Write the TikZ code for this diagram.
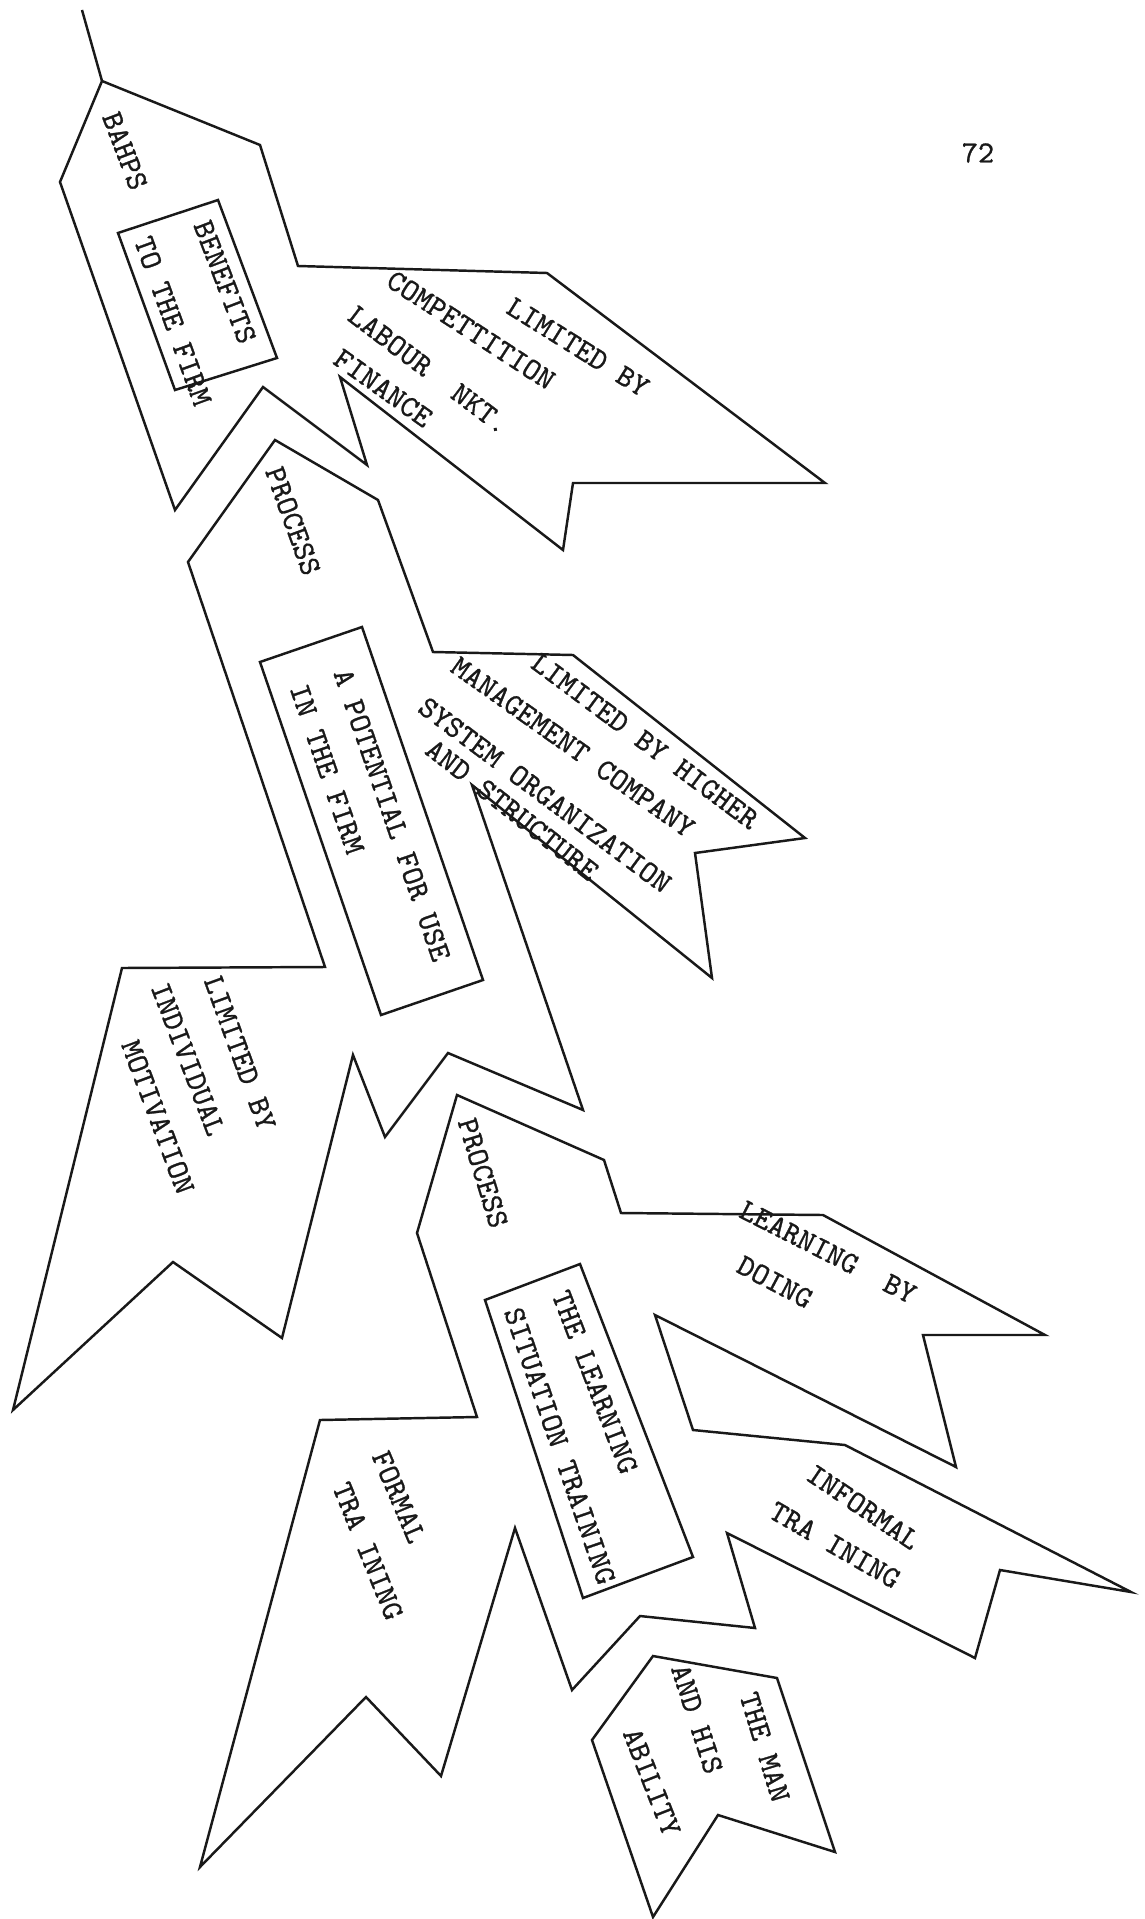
\documentclass[tikz,border=0pt]{standalone}
\usepackage{fontspec}
\newfontfamily\typefont{lmmono10-regular.otf}[FakeBold=0.9]
\definecolor{ink}{RGB}{25,25,25}

\tikzset{
  outline/.style={ink,line width=1.4pt},
  typed/.style={ink,inner sep=0pt,font=\typefont\fontsize{17.5}{21}\selectfont},
}

\begin{document}
\begin{tikzpicture}[x=0.02cm,y=-0.02cm]
 \useasboundingbox (0,0) rectangle (1145,1919);
  \draw[outline] (82,10) -- (102,81);
  \draw[outline] (102,81) -- (260,145) -- (298,266) -- (547,273) -- (825,483)
    -- (573,483) -- (563,550) -- (340,377) -- (367,465) -- (263,387)
    -- (175,510) -- (60,182) -- cycle;
  \draw[outline] (275,440) -- (378,500) -- (433,652) -- (573,655) -- (805,838)
    -- (695,853) -- (712,978) -- (472,785) -- (583,1110) -- (448,1053)
    -- (385,1137) -- (353,1055) -- (282,1338) -- (173,1262) -- (13,1410)
    -- (122,968) -- (325,967) -- (188,562) -- cycle;
  \draw[outline] (457,1095) -- (604,1160) -- (621,1213) -- (823,1215) -- (1045,1335)
    -- (923,1335) -- (956,1467) -- (655,1315) -- (693,1430) -- (845,1445)
    -- (1131,1592) -- (1000,1570) -- (975,1658) -- (727,1533) -- (755,1628)
    -- (640,1616) -- (572,1690) -- (515,1528) -- (441,1776) -- (366,1697)
    -- (200,1867) -- (320,1420) -- (477,1417) -- (417,1233) -- cycle;
  \draw[outline] (653,1656) -- (777,1678) -- (835,1852) -- (718,1815)
    -- (653,1917) -- (592,1740) -- cycle;
  \draw[outline] (118,233) -- (218,200) -- (277,358) -- (175,390) -- cycle;
  \draw[outline] (260,662) -- (362,627) -- (483,980) -- (381,1015) -- cycle;
  \draw[outline] (485,1300) -- (580,1264) -- (693,1557) -- (583,1598) -- cycle;

  \node[typed]              (page)      at (978,153)  {72};
  \node[typed,rotate=-69]   (bahps)     at (125,151)  {BAHPS};
  \node[typed,rotate=-69]   (benefits)  at (225,282)  {BENEFITS};
  \node[typed,rotate=-70]   (tofirm)    at (173,321)  {TO THE FIRM};
  \node[typed,rotate=-32]   (limfirm)   at (578,347)  {LIMITED BY};
  \node[typed,rotate=-33]   (compet)    at (471,330)  {COMPETTITION};
  \node[typed,rotate=-37]   (labour)    at (429,370)  {LABOUR\ \ NKT.};
  \node[typed,rotate=-35.5] (finance)   at (383,388)  {FINANCE};
  \node[typed,rotate=-70]   (procfirm)  at (293,521)  {PROCESS};
  \node[typed,rotate=-71]   (potential) at (392,815)  {A POTENTIAL FOR USE};
  \node[typed,rotate=-71]   (infirm)    at (327,769)  {IN THE FIRM};
  \node[typed,rotate=-36.6] (limhigh)   at (645,741)  {LIMITED BY HIGHER};
  \node[typed,rotate=-35.3] (mgmt)      at (573,747)  {MANAGEMENT COMPANY};
  \node[typed,rotate=-36.7] (system)    at (545,795)  {SYSTEM ORGANIZATION};
  \node[typed,rotate=-38]   (structure) at (512,810)  {AND STRUCTURE};
  \node[typed,rotate=-70]   (limindiv)  at (240,1053) {LIMITED BY};
  \node[typed,rotate=-69]   (indiv)     at (188,1059) {INDIVIDUAL};
  \node[typed,rotate=-69.5] (motiv)     at (158,1117) {MOTIVATION};
  \node[typed,rotate=-73]   (proclearn) at (483,1173) {PROCESS};
  \node[typed,rotate=-69]   (thelearn)  at (595,1382) {THE LEARNING};
  \node[typed,rotate=-71]   (situation) at (560,1446) {SITUATION TRAINING};
  \node[typed,rotate=-27]   (learnby)   at (828,1252) {LEARNING\ \ BY};
  \node[typed,rotate=-28]   (doing)     at (775,1282) {DOING};
  \node[typed,rotate=-34]   (informal)  at (863,1507) {INFORMAL};
  \node[typed,rotate=-30]   (traininf)  at (835,1545) {TRA INING};
  \node[typed,rotate=-67]   (formal)    at (399,1497) {FORMAL};
  \node[typed,rotate=-68]   (trainform) at (368,1551) {TRA INING};
  \node[typed,rotate=-73]   (theman)    at (765,1747) {THE MAN};
  \node[typed,rotate=-72]   (andhis)    at (697,1719) {AND HIS};
  \node[typed,rotate=-68.5] (ability)   at (652,1782) {ABILITY};

\end{tikzpicture}
\end{document}
